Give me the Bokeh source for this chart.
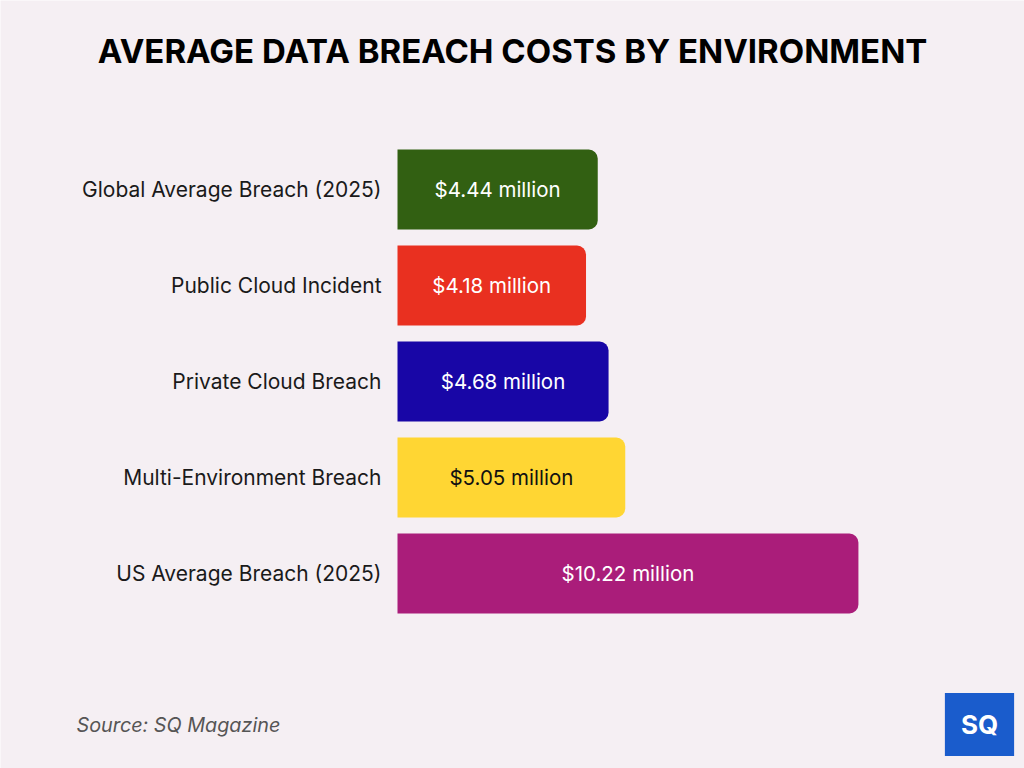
from bokeh.plotting import figure
from bokeh.models import ColumnDataSource, Label, Range1d
from bokeh.core.properties import value
from bokeh.embed import file_html
from bokeh.resources import INLINE

categories = ["Global Average Breach (2025)", "Public Cloud Incident", "Private Cloud Breach",
              "Multi-Environment Breach", "US Average Breach (2025)"]
costs = [4.44, 4.18, 4.68, 5.05, 10.22]
colors = ["#326012", "#e93020", "#1806a6", "#ffd633", "#aa1d7a"]
text_colors = ["#ffffff", "#ffffff", "#ffffff", "#111111", "#ffffff"]
labels = [f"${v:.2f} million" for v in costs]

pos = list(range(len(categories)))
src = ColumnDataSource(dict(cat=categories, pos=pos, cost=costs, half=[v / 2 for v in costs],
                            color=colors, tcolor=text_colors, label=labels))

BG = "#f5eff3"
W, H = 1024, 768
p = figure(width=W, height=H, output_backend="svg", toolbar_location=None,
           x_range=Range1d(-397 / 45.1, (W - 397) / 45.1),
           y_range=Range1d(6.03125, -1.96875),
           min_border=0, background_fill_color=BG, border_fill_color=BG,
           outline_line_color=None)
p.xaxis.visible = False
p.yaxis.visible = False
p.grid.visible = False

p.hbar(y="pos", left=0, right="cost", height=0.833, source=src, fill_color="color",
       line_color=None, border_radius=(0, 9, 9, 0))
p.text(x="half", y="pos", text="label", source=src, text_color="tcolor",
       text_align="center", text_baseline="middle", text_font=value("Inter"),
       text_font_size="20.5px")
p.text(x=0, y="pos", text="cat", source=src, x_offset=-16, text_color="#1a1a1a",
       text_align="right", text_baseline="middle", text_font=value("Inter"),
       text_font_size="21px")


def sy(py):
    return H - py


p.add_layout(Label(x=512, y=sy(50), x_units="screen", y_units="screen",
                   text="AVERAGE DATA BREACH COSTS BY ENVIRONMENT",
                   text_align="center", text_baseline="middle", text_font="Inter",
                   text_font_style="bold", text_font_size="33px", text_color="#000000"))
p.add_layout(Label(x=76, y=sy(724), x_units="screen", y_units="screen",
                   text="Source: SQ Magazine", text_align="left", text_baseline="middle",
                   text_font="Inter", text_font_style="italic", text_font_size="19.8px",
                   text_color="#555555"))
p.add_layout(Label(x=979, y=sy(724), x_units="screen", y_units="screen",
                   text="SQ", text_align="center", text_baseline="middle",
                   text_font="Inter", text_font_style="bold", text_font_size="26px",
                   text_color="#ffffff", background_fill_color="#1a5ccc",
                   padding=16))

open("out.html", "w").write(file_html(p, INLINE))
